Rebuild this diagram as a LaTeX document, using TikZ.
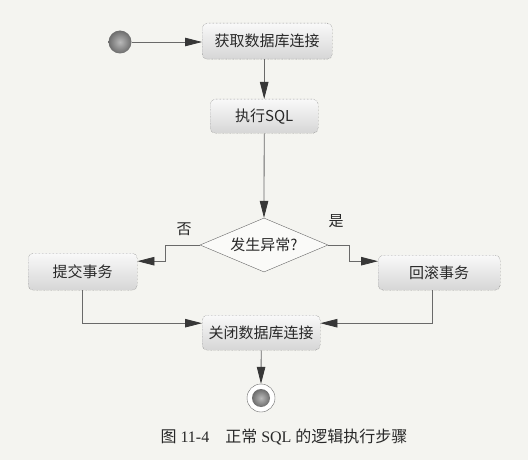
\documentclass[tikz,border=0pt]{standalone}
\usepackage{fontspec}
\setmainfont{Liberation Serif}
\newfontfamily\cjk{Noto Sans CJK SC}
\usetikzlibrary{arrows.meta,shapes.geometric,calc}
\definecolor{paper}{RGB}{244,244,240}
\definecolor{linec}{RGB}{105,105,105}
\definecolor{tipc}{RGB}{55,55,55}
\definecolor{txt}{RGB}{40,40,40}
\tikzset{
  actbox/.style={rectangle,rounded corners=5pt,draw=linec,densely dotted,
    top color=gray!5,bottom color=gray!32,text=txt,font=\cjk\fontsize{15}{17}\selectfont,
    inner sep=0pt,anchor=north west},
  conn/.style={draw=linec,line width=0.8pt},
  arr/.style={conn,-{Triangle[length=17pt,width=8.5pt,fill=tipc,color=tipc]}},
  lbl/.style={text=txt,font=\cjk\fontsize{15}{17}\selectfont},
  ballc/.style={inner color=gray!55,outer color=gray!85!black},
}
\begin{document}
\begin{tikzpicture}[x=1pt,y=-1pt]
\fill[paper] (0,0) rectangle (528,460);
\useasboundingbox (0,0) rectangle (528,460);
% start
\node[circle,minimum size=23pt,inner sep=0pt,ballc] (start) at (120,42) {};
% boxes
\node[actbox,minimum width=130pt,minimum height=36pt] (b1) at (202,23) {获取数据库连接};
\node[actbox,minimum width=108pt,minimum height=34pt] (b2) at (210,99) {执行SQL};
\node[diamond,aspect=2.37,draw=linec,fill=paper!50!white,inner sep=0pt,minimum width=128pt,minimum height=54pt,
  text=txt,font=\cjk\fontsize{15}{17}\selectfont] (d) at (264,245) {发生异常?};
\node[actbox,minimum width=109pt,minimum height=37pt] (commit) at (28,253) {提交事务};
\node[actbox,minimum width=122pt,minimum height=35pt] (rollback) at (378,255) {回滚事务};
\node[actbox,minimum width=118pt,minimum height=35pt] (close) at (202,315) {关闭数据库连接};
% end
\node[circle,draw=linec,fill=white,minimum size=28pt,inner sep=0pt] (end) at (261,398) {};
\node[circle,minimum size=18pt,inner sep=0pt,ballc] (endin) at (end.center) {};
% labels
\node[lbl] (no) at (184,229) {否};
\node[lbl] (yes) at (336,221) {是};
% connectors
\draw[arr] (start.east) -- (b1.west |- start.east);
\draw[arr] ([xshift=-3pt]b1.south) -- ([xshift=-3pt]b1.south |- b2.north);
\draw[arr] (b2.south) -- (d.north);
\draw[arr] (d.west) -- ++(-34,0) |- ([yshift=10.5pt]commit.east);
\draw[arr] (d.east) -- ++(21,0) |- ([yshift=11.5pt]rollback.west);
\draw[arr] (commit.south) |- ([yshift=9.5pt]close.west);
\draw[arr] ([xshift=-7pt]rollback.south) |- ([yshift=9.5pt]close.east);
\draw[arr] (close.south) -- (end.north);
% caption
\node[anchor=west,text=txt,font=\fontsize{16}{18}\selectfont] (cap) at (157,437)
  {{\cjk 图} 11-4\hspace{1em}{\cjk 正常} SQL {\cjk 的逻辑执行步骤}};
\end{tikzpicture}
\end{document}
